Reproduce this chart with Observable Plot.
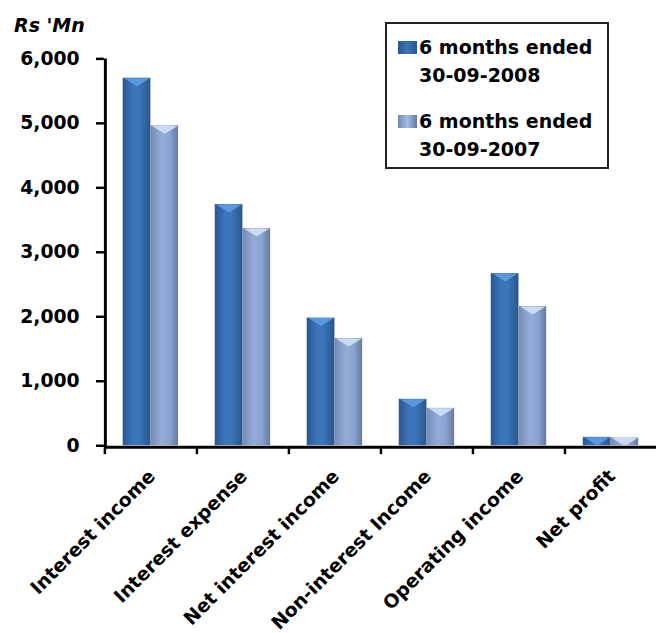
<!DOCTYPE html>
<html><head><meta charset="utf-8">
<script src="https://cdn.jsdelivr.net/npm/d3@7"></script>
<script src="https://cdn.jsdelivr.net/npm/@observablehq/plot@0.6"></script>
<style>
body{margin:0;background:#fff;}
#wrap{position:relative;width:656px;height:633px;overflow:hidden;font-family:"DejaVu Sans",sans-serif;font-weight:700;color:#000;}
#unit{position:absolute;left:14px;top:12px;font-style:italic;font-size:19px;line-height:26px;}
#legend{position:absolute;left:385px;top:22px;width:224px;height:147px;border:2px solid #222;box-sizing:border-box;background:#fff;}
.lk{position:absolute;left:11px;width:19px;height:13px;}
.lt{position:absolute;left:32px;font-size:19px;line-height:28px;white-space:nowrap;}
#chart svg{display:block;}
</style>
</head><body>
<div id="wrap">
  <div id="chart"></div>
  <div id="unit">Rs 'Mn</div>
  <div id="legend"></div>
</div>
<script>
const categories = ["Interest income","Interest expense","Net interest income","Non-interest Income","Operating income","Net profit"];
const seriesNames = ["6 months ended 30-09-2008","6 months ended 30-09-2007"];
const seriesLines = [["6 months ended","30-09-2008"],["6 months ended","30-09-2007"]];
const values2008 = [5700, 3740, 1980, 720, 2670, 130];
const values2007 = [4960, 3370, 1660, 580, 2160, 120];
const yTicks = [0, 1000, 2000, 3000, 4000, 5000, 6000];

const d2008 = categories.map((c, i) => ({category: c, series: seriesNames[0], value: values2008[i]}));
const d2007 = categories.map((c, i) => ({category: c, series: seriesNames[1], value: values2007[i]}));

const chevron = {draw(ctx) { ctx.moveTo(-13, 0); ctx.lineTo(13, 0); ctx.lineTo(0, 8); ctx.closePath(); }};

const plot = Plot.plot({
  width: 663, height: 633,
  marginLeft: 105, marginRight: 0, marginTop: 59, marginBottom: 183,
  style: {fontFamily: "DejaVu Sans", fontSize: "19px", fontWeight: "bold", color: "#000", background: "transparent", overflow: "visible"},
  fx: {domain: categories, padding: 0, axis: null},
  x: {domain: seriesNames, paddingInner: 0, paddingOuter: 0.66, axis: null},
  y: {domain: [0, 6000], axis: null},
  marks: [
    Plot.barY(d2008, {fx: "category", x: "series", y: "value", fill: "url(#gDark)"}),
    Plot.barY(d2007, {fx: "category", x: "series", y: "value", fill: "url(#gLight)"}),
    Plot.dot(d2008, {fx: "category", x: "series", y: "value", symbol: chevron, r: 5, fill: "#62a2ea", fillOpacity: 0.8}),
    Plot.dot(d2007, {fx: "category", x: "series", y: "value", symbol: chevron, r: 5, fill: "#d3e5fb", fillOpacity: 0.85}),
    Plot.ruleY([0], {stroke: "#000", strokeWidth: 3, dy: 1.5}),
    Plot.axisY(yTicks, {label: null, tickSize: 8, tickPadding: 17, strokeWidth: 2.5, tickFormat: d3.format(","), fontWeight: "bold"}),
    Plot.text(categories, {fx: d => d, text: d => d, frameAnchor: "bottom", dy: 32, dx: 6, rotate: -45, textAnchor: "end", fontWeight: "bold"})
  ]
});

const svg = d3.select(plot);
svg.insert("defs", ":first-child").html(`
  <linearGradient id="gDark" x1="0" x2="1" y1="0" y2="0">
    <stop offset="0" stop-color="#2a5590"/>
    <stop offset="0.35" stop-color="#3a73b8"/>
    <stop offset="0.6" stop-color="#3b75bb"/>
    <stop offset="1" stop-color="#2a558e"/>
  </linearGradient>
  <linearGradient id="gLight" x1="0" x2="1" y1="0" y2="0">
    <stop offset="0" stop-color="#7489b3"/>
    <stop offset="0.4" stop-color="#94acd8"/>
    <stop offset="0.7" stop-color="#8aa2cf"/>
    <stop offset="1" stop-color="#66799f"/>
  </linearGradient>`);

const fx = plot.scale("fx");
const y = plot.scale("y");
const x0 = fx.range[0];
const g = svg.append("g").attr("stroke", "#000");
g.append("line").attr("x1", x0 + 1.5).attr("x2", x0 + 1.5)
  .attr("y1", y.apply(yTicks[yTicks.length - 1])).attr("y2", y.apply(0) + 3).attr("stroke-width", 3);
categories.forEach(c => {
  const bx = fx.apply(c);
  g.append("line").attr("x1", bx + 1).attr("x2", bx + 1)
    .attr("y1", y.apply(0) + 3).attr("y2", y.apply(0) + 9).attr("stroke-width", 2.5);
});

document.getElementById("chart").appendChild(plot);

const legend = d3.select("#legend");
const keyFills = [
  "linear-gradient(to right,#2a5590,#3a73b8,#2a558e)",
  "linear-gradient(to right,#7489b3,#a3bce6,#66799f)"
];
seriesLines.forEach((lines, i) => {
  const top = i === 0 ? 0 : 74;
  legend.append("div").attr("class", "lk").style("top", (top + 17) + "px").style("background", keyFills[i]);
  lines.forEach((t, j) => {
    legend.append("div").attr("class", "lt").style("top", (top + 9 + j * 28) + "px").text(t);
  });
});
</script>
</body></html>
